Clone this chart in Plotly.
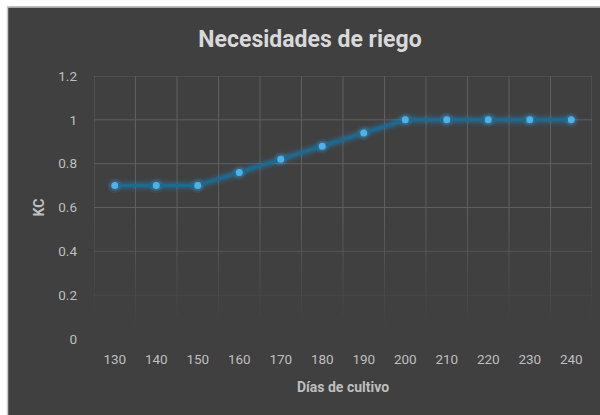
import plotly.graph_objects as go

# Crop coefficient (KC) by days of cultivation
dias = ["130", "140", "150", "160", "170", "180", "190", "200", "210", "220", "230", "240"]
kc = [0.70, 0.70, 0.70, 0.76, 0.82, 0.88, 0.94, 1.00, 1.00, 1.00, 1.00, 1.00]
y_ticks = [0, 0.2, 0.4, 0.6, 0.8, 1.0, 1.2]
y_labels = ["0", "0.2", "0.4", "0.6", "0.8", "1", "1.2"]
Y_MAX = 1.2

BG = "#404040"
TXT = "#bfbfbf"
LINE = "#1a6b93"
MARK = "#4cb3ea"

W, H = 600, 415
ML, MR, MT, MB = 94, 8, 76, 76
PW, PH = W - ML - MR, H - MT - MB

fig = go.Figure()

# soft glow under the series
for width, alpha in [(13, 0.06), (9, 0.10), (6, 0.16)]:
    fig.add_trace(go.Scatter(
        x=dias, y=kc, mode="lines",
        line=dict(color=f"rgba(30,150,220,{alpha})", width=width),
        hoverinfo="skip", showlegend=False,
    ))
for size, alpha in [(15, 0.10), (11, 0.18)]:
    fig.add_trace(go.Scatter(
        x=dias, y=kc, mode="markers",
        marker=dict(size=size, color=f"rgba(60,170,235,{alpha})"),
        hoverinfo="skip", showlegend=False,
    ))
fig.add_trace(go.Scatter(
    x=dias, y=kc, mode="lines+markers", name="KC",
    line=dict(color=LINE, width=3),
    marker=dict(size=7, color=MARK),
    showlegend=False,
))


def grid_alpha(f):
    """Gridline opacity by height in the plot (0 = bottom, 1 = top)."""
    return max(0.0, min(1.0, (f - 0.04) / 0.42))


GRID_RGB = "95,95,95"
shapes = []

# vertical gridlines on category boundaries, fading toward the bottom
steps = 24
for k in range(len(dias) + 1):
    xb = k - 0.5
    for s in range(steps):
        f0 = 0.5 * s / steps
        f1 = 0.5 * (s + 1) / steps
        a = grid_alpha((f0 + f1) / 2)
        if a <= 0:
            continue
        shapes.append(dict(type="line", xref="x", yref="y domain", x0=xb, x1=xb,
                           y0=f0, y1=f1, layer="below",
                           line=dict(color=f"rgba({GRID_RGB},{a:.3f})", width=1)))
    shapes.append(dict(type="line", xref="x", yref="y domain", x0=xb, x1=xb,
                       y0=0.5, y1=1, layer="below",
                       line=dict(color=f"rgb({GRID_RGB})", width=1)))

# horizontal gridlines at the value ticks
for v in y_ticks:
    a = grid_alpha(v / Y_MAX)
    if a <= 0:
        continue
    shapes.append(dict(type="line", xref="x domain", yref="y", x0=0, x1=1,
                       y0=v, y1=v, layer="below",
                       line=dict(color=f"rgba({GRID_RGB},{a:.3f})", width=1)))


# white margin with light frame at the top-left of the chart area
def px_x(px):
    return (px - ML) / PW


def px_y(py):
    return (H - MB - py) / PH


shapes += [
    dict(type="rect", xref="paper", yref="paper", x0=px_x(-5), x1=px_x(W + 5),
         y0=px_y(6.5), y1=px_y(-5), fillcolor="white", line=dict(width=0), layer="above"),
    dict(type="rect", xref="paper", yref="paper", x0=px_x(-5), x1=px_x(7),
         y0=px_y(H + 5), y1=px_y(-5), fillcolor="white", line=dict(width=0), layer="above"),
    dict(type="line", xref="paper", yref="paper", x0=px_x(7), x1=px_x(W + 5),
         y0=px_y(7), y1=px_y(7), line=dict(color="#c9c9c9", width=1.5), layer="above"),
    dict(type="line", xref="paper", yref="paper", x0=px_x(7.5), x1=px_x(7.5),
         y0=px_y(7), y1=px_y(H + 5), line=dict(color="#c9c9c9", width=1.5), layer="above"),
]

fig.update_layout(
    width=W, height=H,
    margin=dict(l=ML, r=MR, t=MT, b=MB),
    paper_bgcolor=BG, plot_bgcolor=BG,
    font=dict(family="Roboto, Arial, sans-serif", color=TXT, size=13),
    title=dict(
        text="<b>Necesidades de riego</b>",
        x=310 / W, xanchor="center", y=1 - 39 / H, yanchor="middle",
        font=dict(size=23, color="#d9d9d9", family="Roboto, Arial, sans-serif"),
    ),
    shapes=shapes,
    xaxis=dict(
        type="category", categoryorder="array", categoryarray=dias,
        range=[-0.5, len(dias) - 0.5],
        showgrid=False, showline=False, zeroline=False, ticks="",
        ticklabelstandoff=10,
        tickfont=dict(size=13.5, color=TXT),
        title=dict(text="<b>Días de cultivo</b>", standoff=16,
                   font=dict(size=14, color=TXT)),
    ),
    yaxis=dict(
        range=[0, Y_MAX], tickvals=y_ticks, ticktext=y_labels,
        showgrid=False, showline=False, zeroline=False, ticks="",
        ticklabelstandoff=16,
        tickfont=dict(size=13.5, color=TXT),
        title=dict(text="<b>KC</b>", standoff=10, font=dict(size=14, color=TXT)),
    ),
)

fig.write_html("out.html")
